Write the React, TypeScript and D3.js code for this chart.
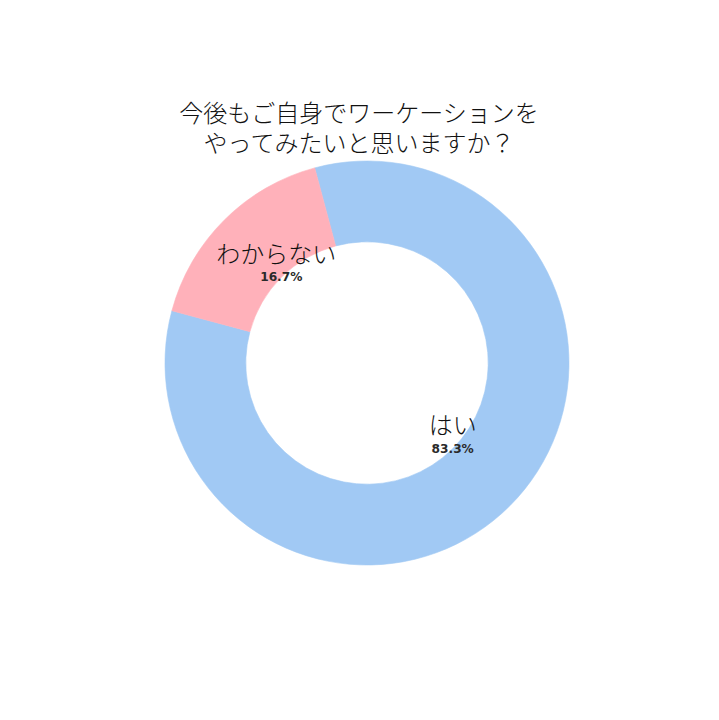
import React from "react";
import * as d3 from "d3";

const categories = ["はい", "わからない"];
const counts = [5, 1];
const colors = ["#a1c9f4", "#ffb1ba"];
const titleLines = ["今後もご自身でワーケーションを", "やってみたいと思いますか？"];

const W = 719;
const H = 720;
const cx = 367;
const cy = 363;
const outerR = 202;
const innerR = outerR * 0.6;

export default function App() {
  const data = categories.map((c, i) => ({ label: c, value: counts[i], color: colors[i] }));
  const total = d3.sum(counts);
  const startA = (-15 * Math.PI) / 180;
  const pie = d3
    .pie<any>()
    .value((d: any) => d.value)
    .sort(null)
    .startAngle(startA)
    .endAngle(startA + 2 * Math.PI);
  const arcs = pie(data);
  const arc = d3.arc<any>().innerRadius(innerR).outerRadius(outerR);
  const fmt = d3.format(".1%");
  const cjk = "'Noto Sans CJK JP Light', 'Noto Sans CJK JP', 'Noto Sans', sans-serif";

  return (
    <div style={{ position: "absolute", left: 0, top: 0, width: W, height: H, background: "#fff" }}>
      <svg width={W} height={H} viewBox={`0 0 ${W} ${H}`}>
        <rect width={W} height={H} fill="#fff" />
        {titleLines.map((t, i) => (
          <text
            key={i}
            x={359}
            y={111 + i * 30}
            textAnchor="middle"
            dominantBaseline="central"
            fontFamily={cjk}
            fontWeight={300}
            fontSize={24}
            fill="#111"
          >
            {t}
          </text>
        ))}
        <g transform={`translate(${cx},${cy})`}>
          {arcs.map((a, i) => (
            <path
              key={i}
              d={arc(a) as string}
              fill={a.data.color}
              stroke={a.data.color}
              strokeWidth={0.6}
            />
          ))}
          {arcs.map((a, i) => {
            const mid = (a.startAngle + a.endAngle) / 2;
            const r = outerR * 0.6;
            const x = Math.sin(mid) * r;
            const y = -Math.cos(mid) * r;
            return (
              <g key={"t" + i}>
                <text
                  x={x - (i === 1 ? 5 : 0)}
                  y={y - 25}
                  textAnchor="middle"
                  dominantBaseline="central"
                  fontFamily={cjk}
                  fontWeight={300}
                  fontSize={24}
                  fill="#111"
                >
                  {a.data.label}
                </text>
                <text
                  x={x}
                  y={y}
                  textAnchor="middle"
                  dominantBaseline="central"
                  fontFamily="'DejaVu Sans', sans-serif"
                  fontWeight="bold"
                  fontSize={12.2}
                  fill="#2a2a2a"
                >
                  {fmt(a.data.value / total)}
                </text>
              </g>
            );
          })}
        </g>
      </svg>
    </div>
  );
}
